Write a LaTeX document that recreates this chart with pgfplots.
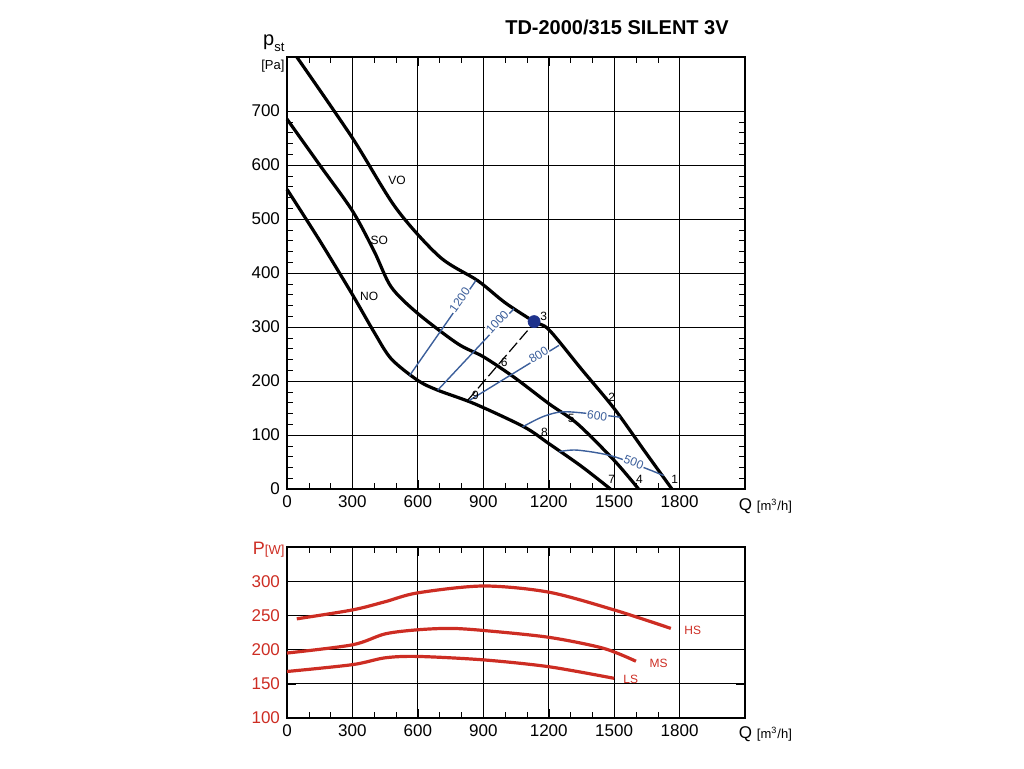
\documentclass[border=0pt]{standalone}
\usepackage{pgfplots}
\pgfplotsset{compat=1.18}
\usepackage{fontspec}
\setmainfont{Liberation Sans}
\definecolor{rd}{RGB}{205,45,35}
\definecolor{bl}{RGB}{60,95,155}
\definecolor{dot}{RGB}{30,50,140}
\begin{document}
\begin{tikzpicture}[x=0.5pt,y=0.5pt]
\path[use as bounding box] (0,0) rectangle (1024,768);
\node[font=\bfseries\fontsize{10}{12}\selectfont,anchor=center] at (617,741) {TD-2000/315 SILENT 3V};
\pgfplotsset{every axis/.append style={scale only axis, xmin=0,xmax=2100, xtick={0,300,...,1800},
 grid=major, major grid style={black,line width=0.5pt}, axis line style={black,line width=0.6pt},
 minor x tick num=2, tick align=inside, tick style={black},
 /pgf/number format/assume math mode=true, /pgf/number format/1000 sep={},
 tick label style={font=\fontsize{8.5}{10}\selectfont}, clip=false}}
\begin{axis}[at={(143.5pt,139.5pt)},anchor=south west,width=229pt,height=216pt,
 ymin=0,ymax=800,ytick={0,100,...,700},minor y tick num=4]
\addplot[black,line width=1.6pt,smooth,tension=0.5] coordinates {(45,800)(300,650)(500,520)(700,430)(874,386)(1000,345)(1133,310)(1201,295)(1350,222)(1500,149)(1640,70)(1765,0)};
\addplot[black,line width=1.6pt,smooth,tension=0.5] coordinates {(0,685)(150,600)(300,515)(400,440)(478,374)(600,325)(783,269)(900,245)(1041,207)(1201,158)(1331,121)(1500,53)(1612,0)};
\addplot[black,line width=1.6pt,smooth,tension=0.5] coordinates {(0,555)(150,460)(300,360)(400,290)(478,241)(600,201)(691,183)(859,158)(1087,115)(1201,84)(1350,42)(1483,0)};
\addplot[bl,line width=0.7pt] coordinates {(562,210)(866,386)};
\addplot[bl,line width=0.7pt] coordinates {(691,183)(1041,334)};
\addplot[bl,line width=0.7pt] coordinates {(836,164)(1247,266)};
\addplot[bl,line width=0.7pt,smooth] coordinates {(1080,115)(1180,135)(1285,143)(1528,133)};
\addplot[bl,line width=0.7pt,smooth] coordinates {(1247,69)(1331,72)(1500,60)(1727,25)};
\addplot[black,line width=0.6pt,dash pattern=on 6pt off 2pt] coordinates {(828,164)(1117,300)};
\addplot[only marks,mark=*,mark size=3pt,dot] coordinates {(1133,310)};
\begin{scope}[font=\fontsize{6}{7}\selectfont]
\node at (axis cs:505,572) {VO};
\node at (axis cs:423,461) {SO};
\node at (axis cs:377,356) {NO};
\node at (axis cs:1177,319) {3};
\node at (axis cs:1489,170) {2};
\node at (axis cs:1778,18) {1};
\node at (axis cs:996,235) {6};
\node at (axis cs:1303,131) {5};
\node at (axis cs:1616,18) {4};
\node at (axis cs:864,174) {9};
\node at (axis cs:1181,105) {8};
\node at (axis cs:1489,18) {7};
\end{scope}
\begin{scope}[font=\fontsize{6}{7}\selectfont,text=bl,inner sep=0.5pt]
\node[fill=white,rotate=55] at (axis cs:792,350) {1200};
\node[fill=white,rotate=47] at (axis cs:964,309) {1000};
\node[fill=white,rotate=31] at (axis cs:1154,248) {800};
\node[fill=white,rotate=-8] at (axis cs:1422,136) {600};
\node[fill=white,rotate=-22] at (axis cs:1590,50) {500};
\end{scope}
\node[anchor=north west,font=\fontsize{8.5}{10}\selectfont] at (axis cs:2040,-5) {Q {\fontsize{6.5}{8}\selectfont[m\textsuperscript{3}/h]}};
\node[anchor=south east,font=\fontsize{10}{12}\selectfont,inner sep=0pt] at (axis cs:-10,810) {p\raisebox{-0.5ex}{\fontsize{6.5}{8}\selectfont st}};
\node[anchor=north east,font=\fontsize{6.5}{8}\selectfont,inner sep=0pt] at (axis cs:-10,795) {[Pa]};
\end{axis}
\begin{axis}[at={(143.5pt,25pt)},anchor=south west,width=229pt,height=85.5pt,
 ymin=100,ymax=350,ytick={100,150,...,300},minor y tick num=0,
 yticklabel style={text=rd}]
\addplot[rd,line width=1.6pt,smooth] coordinates {(0,168)(300,178)(450,188)(600,190)(900,185)(1200,175)(1500,158)};
\addplot[rd,line width=1.6pt,smooth] coordinates {(0,195)(300,207)(450,223)(600,229)(750,231)(900,228)(1200,218)(1450,202)(1600,183)};
\addplot[rd,line width=1.6pt,smooth] coordinates {(45,245)(300,258)(450,270)(600,283)(900,293)(1200,284)(1500,258)(1760,231)};
\begin{scope}[font=\fontsize{6}{7}\selectfont,text=rd]
\node[anchor=west] at (axis cs:1790,228) {HS};
\node[anchor=west] at (axis cs:1630,180) {MS};
\node[anchor=west] at (axis cs:1510,156) {LS};
\end{scope}
\node[anchor=north west,font=\fontsize{8.5}{10}\selectfont] at (axis cs:2040,97) {Q {\fontsize{6.5}{8}\selectfont[m\textsuperscript{3}/h]}};
\node[anchor=south east,font=\fontsize{9}{11}\selectfont,text=rd,inner sep=0pt] at (axis cs:-10,335) {P{\fontsize{6.5}{8}\selectfont[W]}};
\end{axis}
\end{tikzpicture}
\end{document}
